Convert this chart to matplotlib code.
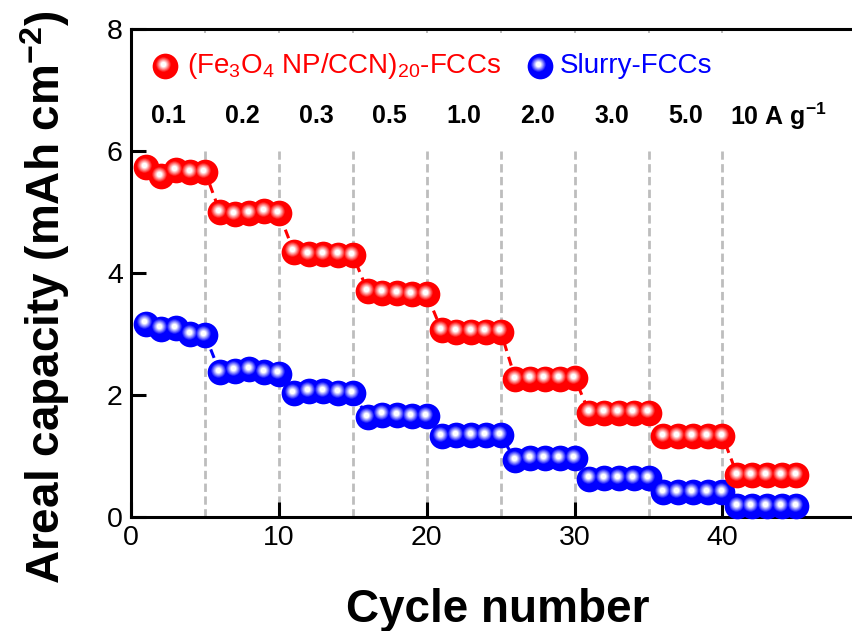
import numpy as np
import matplotlib
matplotlib.use("Agg")
import matplotlib.pyplot as plt
from matplotlib import transforms
from matplotlib.colors import to_rgb

plt.rcParams['font.family'] = ['Liberation Sans', 'DejaVu Sans']
plt.rcParams['mathtext.fontset'] = 'custom'
plt.rcParams['mathtext.rm'] = 'Liberation Sans'
plt.rcParams['mathtext.it'] = 'Liberation Sans:italic'
plt.rcParams['mathtext.bf'] = 'Liberation Sans:bold'

# ---- data -------------------------------------------------------------
cycles = np.arange(1, 46)
fe3o4_ccn = [5.74, 5.59, 5.69, 5.66, 5.66,
             5.00, 4.96, 4.98, 5.02, 4.98,
             4.35, 4.31, 4.31, 4.30, 4.29,
             3.70, 3.68, 3.67, 3.65, 3.65,
             3.06, 3.04, 3.04, 3.04, 3.04,
             2.26, 2.27, 2.27, 2.27, 2.28,
             1.71, 1.71, 1.71, 1.71, 1.71,
             1.33, 1.33, 1.33, 1.33, 1.33,
             0.69, 0.69, 0.69, 0.69, 0.69]
slurry = [3.17, 3.09, 3.10, 3.00, 2.98,
          2.37, 2.40, 2.42, 2.38, 2.35,
          2.03, 2.07, 2.07, 2.04, 2.03,
          1.64, 1.68, 1.67, 1.66, 1.66,
          1.33, 1.34, 1.34, 1.34, 1.34,
          0.93, 0.96, 0.96, 0.96, 0.96,
          0.63, 0.64, 0.64, 0.64, 0.64,
          0.41, 0.41, 0.41, 0.41, 0.41,
          0.18, 0.18, 0.18, 0.18, 0.18]
rates = ["0.1", "0.2", "0.3", "0.5", "1.0", "2.0", "3.0", "5.0"]
last_rate = r"$\mathbf{10\ A\ g^{-1}}$"
cycles_per_rate = 5
label_fe = r"(Fe$_3$O$_4$ NP/CCN)$_{20}$-FCCs"
label_slurry = "Slurry-FCCs"

RED = "#ff0000"
BLUE = "#0000ff"

W, H, DPI = 853, 631, 100
fig = plt.figure(figsize=(W / DPI, H / DPI), dpi=DPI)

# axes box in pixels: left edge 131, x-axis at 517 from top, top spine at 29
x_left, y_bottom, y_top = 131.2, 517.0, 29.0
px_per_cycle = 14.78
xmax = 50
ax_w = xmax * px_per_cycle
ax_h = y_bottom - y_top
ax = fig.add_axes([x_left / W, (H - y_bottom) / H, ax_w / W, ax_h / H])
ax.set_xlim(0, xmax)
ax.set_ylim(0, 8)


def shaded_balls(ax, x, y, color, size=18.5, transform=None, zorder=3):
    """Draw glossy spheres: solid disk plus a whitish highlight up-left."""
    base = transform if transform is not None else ax.transData
    ax.plot(x, y, 'o', ms=size, color=color, mew=0, transform=base,
            zorder=zorder, clip_on=False)
    hl = transforms.offset_copy(base, fig=fig, x=-1.6, y=2.2, units='dots')
    c = np.array(to_rgb(color))
    n = 9
    for k in range(n):
        t = (k + 1) / n
        frac = 0.62 - 0.42 * t
        mix = t ** 1.0
        col = c * (1 - mix) + np.ones(3) * mix
        ax.plot(x, y, 'o', ms=size * frac, color=col, mew=0, transform=hl,
                zorder=zorder + 0.01 * (k + 1), clip_on=False)


# rate-step separators
bounds = np.arange(cycles_per_rate, len(cycles), cycles_per_rate)
ax.vlines(bounds, 0, 6.0, colors="#bdbdbd", linewidth=2.0,
          linestyles=(0, (3, 1.6)), zorder=1)
ax.vlines(bounds, 7.94, 8, colors="#bdbdbd", linewidth=1.4, zorder=1)

# series
ax.plot(cycles, slurry, '--', color=BLUE, lw=2.2, dashes=(3, 2), zorder=2)
shaded_balls(ax, cycles, slurry, BLUE, zorder=3)
ax.plot(cycles, fe3o4_ccn, '--', color=RED, lw=2.2, dashes=(3, 2), zorder=4)
shaded_balls(ax, cycles, fe3o4_ccn, RED, zorder=5)

# current-density labels
for i, r in enumerate(rates):
    ax.text(cycles_per_rate * (i + 0.5), 6.57, r, ha='center', va='center',
            fontsize=18, fontweight='bold', zorder=6)
ax.text(cycles_per_rate * len(rates) + 0.5, 6.57, last_rate, ha='left',
        va='center', fontsize=18, zorder=6)

# legend drawn inside the axes
shaded_balls(ax, [2.29], [7.39], RED, zorder=6)
ax.text(3.77, 7.39, label_fe, color=RED, fontsize=20, ha='left',
        va='center', zorder=6)
shaded_balls(ax, [27.65], [7.39], BLUE, zorder=6)
ax.text(29.0, 7.39, label_slurry, color=BLUE, fontsize=20, ha='left',
        va='center', zorder=6)

# axes styling
for s in ax.spines.values():
    s.set_linewidth(2.2)
ax.set_xticks([0, 10, 20, 30, 40])
ax.set_yticks([0, 2, 4, 6, 8])
ax.tick_params(direction='in', length=11, width=2.2, labelsize=20.5, pad=6,
               top=False, right=False)
ax.set_xlabel("Cycle number", fontsize=33, fontweight='bold')
ax.xaxis.set_label_coords((498 - x_left) / ax_w, (y_bottom - 588) / ax_h)
ax.set_ylabel(r"Areal capacity (mAh cm$^{\mathbf{-2}}$)", fontsize=33,
              fontweight='bold')
ax.yaxis.set_label_coords((72 - x_left) / ax_w, (y_bottom - 297) / ax_h)

fig.savefig("out.png", dpi=DPI)
